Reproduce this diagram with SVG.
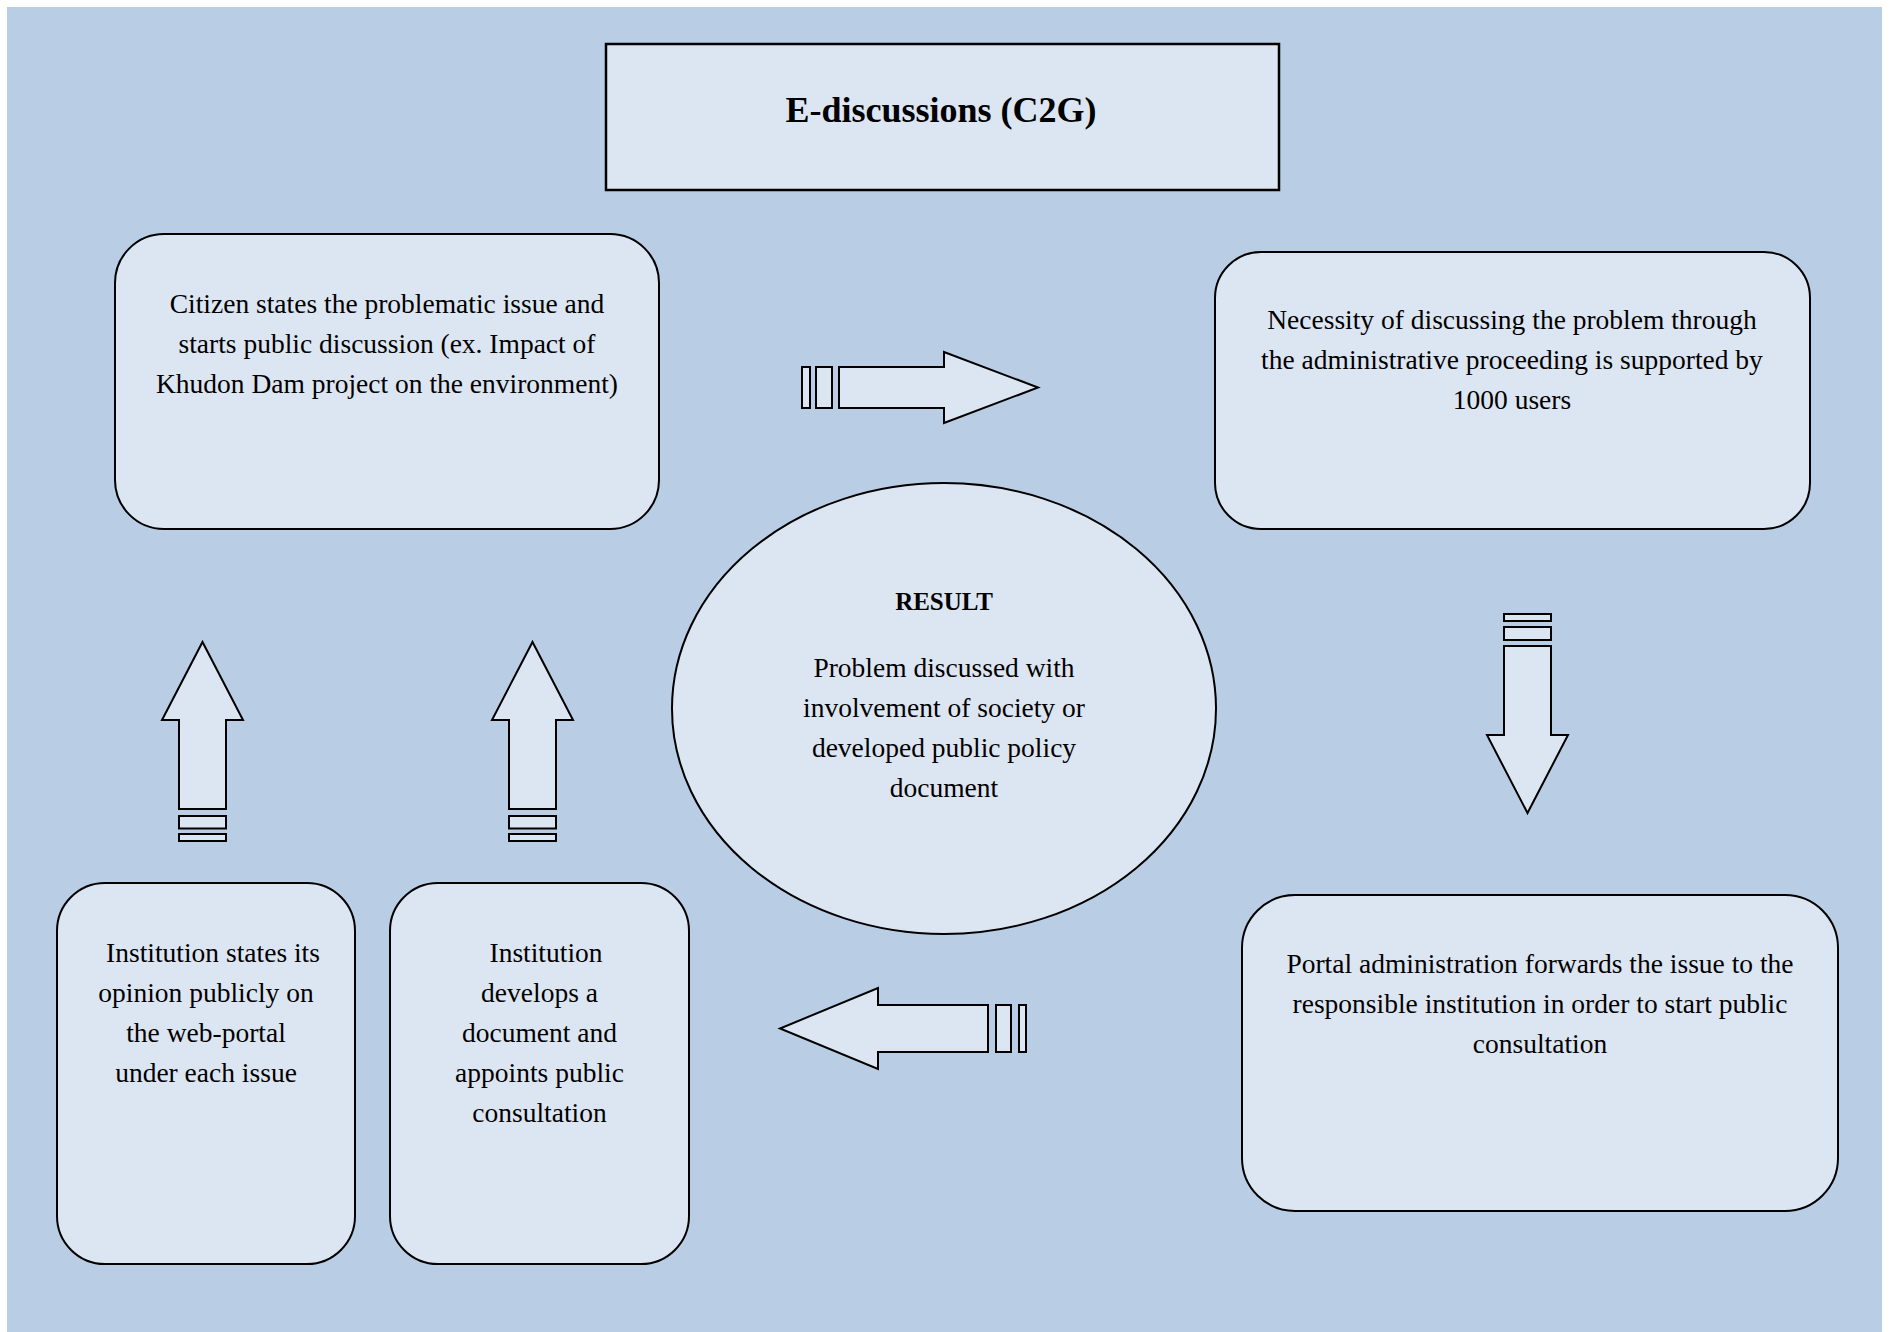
<svg xmlns="http://www.w3.org/2000/svg" width="1891" height="1332" viewBox="0 0 1891 1332">
<style>
.bg{fill:#B9CDE4}
.box{fill:#DCE6F2;stroke:#000;stroke-width:2}
.arr{fill:#DCE6F2;stroke:#000;stroke-width:2;stroke-linejoin:miter}
.t{font-family:"Liberation Serif","Times New Roman",serif;font-size:27.5px;fill:#000;text-anchor:middle}
.b{font-weight:bold}
</style>
<rect x="0" y="0" width="1891" height="1332" fill="#fff"/>
<rect class="bg" x="7" y="7" width="1875" height="1325"/>

<g id="title">
<rect class="box" x="606" y="44" width="673" height="146" style="stroke-width:2.5"/>
<text class="t b" x="941" y="122" style="font-size:36px">E-discussions (C2G)</text>
</g>

<g id="citizen">
<rect class="box" x="115" y="234" width="544" height="295" rx="49" ry="49"/>
<text class="t" x="387" y="313">Citizen states the problematic issue and</text>
<text class="t" x="387" y="353">starts public discussion (ex. Impact of</text>
<text class="t" x="387" y="393">Khudon Dam project on the environment)</text>
</g>

<g id="necessity">
<rect class="box" x="1215" y="252" width="595" height="277" rx="46" ry="46"/>
<text class="t" x="1512" y="329">Necessity of discussing the problem through</text>
<text class="t" x="1512" y="369">the administrative proceeding is supported by</text>
<text class="t" x="1512" y="409">1000 users</text>
</g>

<g id="portal">
<rect class="box" x="1242" y="895" width="596" height="316" rx="53" ry="53"/>
<text class="t" x="1540" y="973">Portal administration forwards the issue to the</text>
<text class="t" x="1540" y="1013">responsible institution in order to start public</text>
<text class="t" x="1540" y="1053">consultation</text>
</g>

<g id="result">
<ellipse class="box" cx="944" cy="708.5" rx="272" ry="225.5"/>
<text class="t b" x="944" y="610" style="font-size:25px">RESULT</text>
<text class="t" x="944" y="677">Problem discussed with</text>
<text class="t" x="944" y="717">involvement of society or</text>
<text class="t" x="944" y="757">developed public policy</text>
<text class="t" x="944" y="797">document</text>
</g>

<g id="institution-opinion">
<rect class="box" x="57" y="883" width="298" height="381" rx="48" ry="48"/>
<text class="t" x="213" y="962">Institution states its</text>
<text class="t" x="206" y="1002">opinion publicly on</text>
<text class="t" x="206" y="1042">the web-portal</text>
<text class="t" x="206" y="1082">under each issue</text>
</g>

<g id="institution-document">
<rect class="box" x="390" y="883" width="299" height="381" rx="48" ry="48"/>
<text class="t" x="546" y="962">Institution</text>
<text class="t" x="539.5" y="1002">develops a</text>
<text class="t" x="539.5" y="1042">document and</text>
<text class="t" x="539.5" y="1082">appoints public</text>
<text class="t" x="539.5" y="1122">consultation</text>
</g>

<g id="connectors">
<!-- right arrow -->
<g id="arrow-right">
<rect class="arr" x="802" y="367" width="8" height="41"/>
<rect class="arr" x="816" y="367" width="16" height="41"/>
<polygon class="arr" points="839,367 944,367 944,352 1038,387.5 944,423 944,408 839,408"/>
</g>
<!-- down arrow -->
<g id="arrow-down">
<rect class="arr" x="1504" y="614" width="47" height="7"/>
<rect class="arr" x="1504" y="627" width="47" height="13"/>
<polygon class="arr" points="1504,646 1551,646 1551,735 1568,735 1527.5,813 1487,735 1504,735"/>
</g>
<!-- left arrow -->
<g id="arrow-left">
<rect class="arr" x="1019" y="1005" width="7" height="47"/>
<rect class="arr" x="996" y="1005" width="15" height="47"/>
<polygon class="arr" points="988,1005 878,1005 878,988 780,1028.5 878,1069 878,1052 988,1052"/>
</g>
<!-- up arrows -->
<g id="arrow-up-1">
<rect class="arr" x="179" y="834" width="47" height="7"/>
<rect class="arr" x="179" y="816" width="47" height="12.5"/>
<polygon class="arr" points="179,809 179,720 162,720 202.5,642 243,720 226,720 226,809"/>
</g>
<g id="arrow-up-2">
<rect class="arr" x="509" y="834" width="47" height="7"/>
<rect class="arr" x="509" y="816" width="47" height="12.5"/>
<polygon class="arr" points="509,809 509,720 492,720 532.5,642 573,720 556,720 556,809"/>
</g>
</g>
</svg>
